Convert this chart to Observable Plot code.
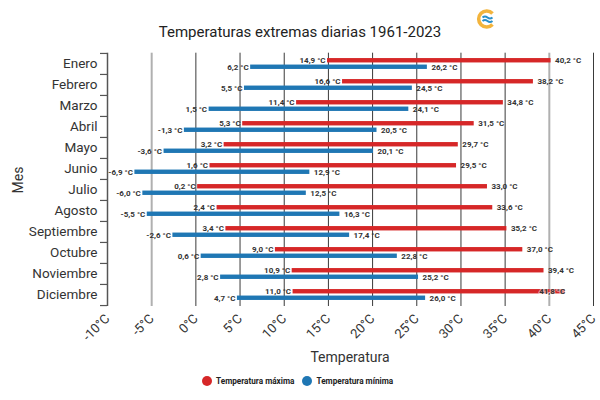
<!DOCTYPE html>
<html>
<head>
<meta charset="utf-8">
<script src="https://cdn.jsdelivr.net/npm/d3@7"></script>
<script src="https://cdn.jsdelivr.net/npm/@observablehq/plot@0.6"></script>
<style>
  body { margin: 0; background: #fff; }
  #wrap { position: relative; width: 600px; height: 400px; font-family: Roboto, "Noto Sans", sans-serif; color: #222; overflow: hidden; }
  #title { position: absolute; left: 0; width: 600px; top: 23px; text-align: center; font-size: 15px; color: #222; }
  #chart { position: absolute; left: 0; top: 0; }
  #ylab { position: absolute; left: 18px; top: 180px; font-size: 14px; color: #333; transform: translate(-50%, -50%) rotate(-90deg); white-space: nowrap; }
  #xlab { position: absolute; left: 350px; top: 357px; font-size: 14px; color: #333; transform: translate(-50%, -50%); white-space: nowrap; }
  #legend { position: absolute; top: 376px; left: 202px; display: flex; gap: 8px; font-size: 8.2px; font-weight: bold; color: #222; line-height: 10px; }
  .item { display: flex; align-items: center; gap: 4px; }
  .dot { width: 10px; height: 10px; border-radius: 50%; display: inline-block; }
  #logo { position: absolute; left: 474px; top: 7px; }
</style>
</head>
<body>
<div id="wrap">
  <svg id="logo" width="24" height="24" viewBox="0 0 24 24">
    <path d="M18.5 6.5 A8 8 0 1 0 18.5 17.5" fill="none" stroke="#f3b43c" stroke-width="3.6"/>
    <path d="M8.5 10.5 q2.5 -2 5 0 t5 0" fill="none" stroke="#2a8fc8" stroke-width="2"/>
    <path d="M8.5 14 q2.5 -2 5 0 t5 0" fill="none" stroke="#2a8fc8" stroke-width="2"/>
  </svg>
  <div id="title">Temperaturas extremas diarias 1961-2023</div>
  <div id="chart"></div>
  <div id="ylab">Mes</div>
  <div id="xlab">Temperatura</div>
  <div id="legend">
    <span class="item"><span class="dot" style="background:#d62728"></span>Temperatura máxima</span>
    <span class="item"><span class="dot" style="background:#1f77b4"></span>Temperatura mínima</span>
  </div>
</div>
<script>
// Meses
const months = ["Enero", "Febrero", "Marzo", "Abril", "Mayo", "Junio", "Julio",
  "Agosto", "Septiembre", "Octubre", "Noviembre", "Diciembre"];

// Temperatura máxima diaria: valor más bajo y más alto registrado (°C)
const maxLow  = [14.9, 16.6, 11.4, 5.3, 3.2, 1.6, 0.2, 2.4, 3.4, 9.0, 10.9, 11.0];
const maxHigh = [40.2, 38.2, 34.8, 31.5, 29.7, 29.5, 33.0, 33.6, 35.2, 37.0, 39.4, 41.8];

// Temperatura mínima diaria: valor más bajo y más alto registrado (°C)
const minLow  = [6.2, 5.5, 1.5, -1.3, -3.6, -6.9, -6.0, -5.5, -2.6, 0.6, 2.8, 4.7];
const minHigh = [26.2, 24.5, 24.1, 20.5, 20.1, 12.9, 12.5, 16.3, 17.4, 22.8, 25.2, 26.0];

// Marcas del eje de temperatura
const xTicks = [-10, -5, 0, 5, 10, 15, 20, 25, 30, 35, 40, 45];

const RED = "#d62728", BLUE = "#1f77b4";
const H = 345, MT = 52.7, MB = H - 306;
const bw = (H - MT - MB) / months.length;

const maxRows = months.map((m, i) => ({month: m, low: maxLow[i], high: maxHigh[i]}));
const minRows = months.map((m, i) => ({month: m, low: minLow[i], high: minHigh[i]}));

const fmt = v => v.toFixed(1).replace(".", ",") + " °C";
const xMax = 45;
const fits = d => d.high <= xMax - 3.5;

const labelStyle = {fontSize: 8, fontWeight: "bold", fill: "#333"};

const chart = Plot.plot({
  width: 600,
  height: H,
  marginLeft: 107,
  marginRight: 7,
  marginTop: MT,
  marginBottom: MB,
  style: {fontFamily: "Roboto, sans-serif", background: "transparent", overflow: "visible"},
  x: {domain: [-10, xMax], label: null},
  y: {domain: months, padding: 0, label: null},
  marks: [
    // cuadrícula vertical
    Plot.ruleX(xTicks.filter(t => t > -10 && t !== -5 && t !== 40), {stroke: "#3a3a3a", strokeWidth: 1}),
    Plot.ruleX(xTicks.filter(t => t === -5 || t === 40), {stroke: "#b0b0b0", strokeWidth: 2}),
    // línea del eje de meses y sus marcas entre bandas
    Plot.ruleX([-10], {stroke: "#555", strokeWidth: 1.5}),
    Plot.ruleY(months, {y: d => d, x1: -10 - 7 / 8.836, x2: -10, dy: -bw / 2, stroke: "#555", strokeWidth: 1.2}),
    Plot.ruleY(months.slice(-1), {y: d => d, x1: -10 - 7 / 8.836, x2: -10, dy: bw / 2, stroke: "#555", strokeWidth: 1.2}),
    // barras de rango
    Plot.barX(maxRows, {x1: "low", x2: "high", y: "month", fill: RED, insetTop: bw / 2 - 5.5, insetBottom: bw / 2 + 1}),
    Plot.barX(minRows, {x1: "low", x2: "high", y: "month", fill: BLUE, insetTop: bw / 2 + 1, insetBottom: bw / 2 - 5.5}),
    // etiquetas de valores
    Plot.text(maxRows, {x: "low", y: "month", text: d => fmt(d.low), textAnchor: "end", dx: -2, dy: -3.2, ...labelStyle}),
    Plot.text(maxRows, {filter: fits, x: "high", y: "month", text: d => fmt(d.high), textAnchor: "start", dx: 4, dy: -3.2, ...labelStyle}),
    Plot.text(maxRows, {filter: d => !fits(d), x: "high", y: "month", text: d => fmt(d.high), textAnchor: "end", dx: 0, dy: -3.2, ...labelStyle, stroke: "white", strokeOpacity: 0.55, strokeWidth: 2}),
    Plot.text(minRows, {x: "low", y: "month", text: d => fmt(d.low), textAnchor: "end", dx: -2, dy: 3.2, ...labelStyle}),
    Plot.text(minRows, {x: "high", y: "month", text: d => fmt(d.high), textAnchor: "start", dx: 4, dy: 3.2, ...labelStyle}),
    // ejes
    Plot.axisY({tickSize: 0, tickPadding: 10, fontSize: 13.5, fill: "#333", label: null}),
    Plot.axisX({ticks: xTicks, tickSize: 0, tickPadding: 10, tickRotate: -45, tickFormat: d => `${d}°C`, fontSize: 13, fill: "#333", label: null})
  ]
});
document.getElementById("chart").appendChild(chart);
</script>
</body>
</html>
